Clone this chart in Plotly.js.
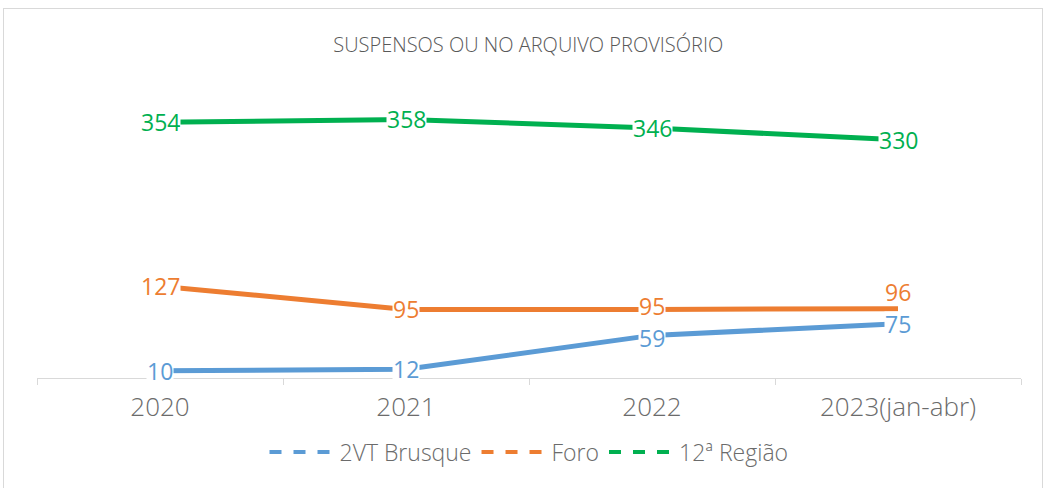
<!DOCTYPE html>
<html><head><meta charset="utf-8">
<script src="https://cdn.plot.ly/plotly-3.0.1.min.js"></script>
<style>
html,body{margin:0;padding:0;background:#fff;}
#frame{position:absolute;left:3px;top:8px;width:1040px;height:490px;border:1px solid #d9d9d9;box-sizing:border-box;}
#chart{position:absolute;left:0;top:0;width:1044px;height:488px;}
</style></head>
<body>
<div id="frame"></div>
<div id="chart"></div>
<script>
const categories = ["2020","2021","2022","2023(jan-abr)"];
const seriesNames = ["2VT Brusque","Foro","12ª Região"];
const brusque = [10, 12, 59, 75];
const foro = [127, 95, 95, 96];
const regiao = [354, 358, 346, 330];
const colors = ["#5B9BD5","#ED7D31","#00B050"];
const allSeries = [brusque, foro, regiao];

const traces = [];
allSeries.forEach((vals, i) => {
  traces.push({x: categories, y: vals, type:'scatter', mode:'lines', name: seriesNames[i],
    line:{color:colors[i], width:5}, showlegend:false, hoverinfo:'skip'});
});
allSeries.forEach((vals, i) => {
  traces.push({x: categories, y: vals.map(()=>null), type:'scatter', mode:'lines', name: seriesNames[i],
    line:{color:colors[i], width:4, dash:'dash'}, showlegend:true});
});

const annotations = [];
allSeries.forEach((vals, i) => {
  vals.forEach((v, j) => {
    const above = (i === 1 && j === 3);
    let shift = 0;
    if (above) shift = 17;
    else if (j === 2 && i === 1) shift = 3;
    else if (j === 2 && i === 0) shift = -3;
    annotations.push({x: j, y: v, xref:'x', yref:'y', text: String(v), showarrow:false,
      font:{family:'Open Sans, Noto Sans, sans-serif', size:23, color:colors[i]},
      height:24, borderpad:0,
      bgcolor: above ? 'rgba(0,0,0,0)' : '#ffffff', yshift: shift});
  });
});

const layout = {
  width:1044, height:488,
  margin:{l:37, r:23, t:53, b:110},
  paper_bgcolor:'rgba(0,0,0,0)', plot_bgcolor:'rgba(0,0,0,0)',
  title:{text:'SUSPENSOS OU NO ARQUIVO PROVISÓRIO', x:0.506, xanchor:'center', y:1-45/488, yanchor:'middle',
    font:{family:'Open Sans, sans-serif', size:20, color:'#595959', weight:300}},
  xaxis:{type:'category', range:[-0.5,3.5], showgrid:false, zeroline:false, showline:true, linecolor:'#d9d9d9', linewidth:1,
    ticks:'outside', tickson:'boundaries', ticklen:6, tickcolor:'#d9d9d9', tickwidth:1, ticklabelstandoff:6,
    tickfont:{family:'Open Sans, Noto Sans, sans-serif', size:26, color:'#6b6b6b', weight:300}, fixedrange:true},
  yaxis:{range:[0,450], visible:false, fixedrange:true},
  legend:{orientation:'h', x:0.5, xanchor:'center', y:-(452-378)/325, yanchor:'middle', itemwidth:65,
    font:{family:'Open Sans, Noto Sans, sans-serif', size:23, color:'#6b6b6b', weight:300}, tracegroupgap:0},
  annotations: annotations,
  showlegend:true
};
Plotly.newPlot('chart', traces, layout, {staticPlot:true, displayModeBar:false});
</script>
</body></html>
